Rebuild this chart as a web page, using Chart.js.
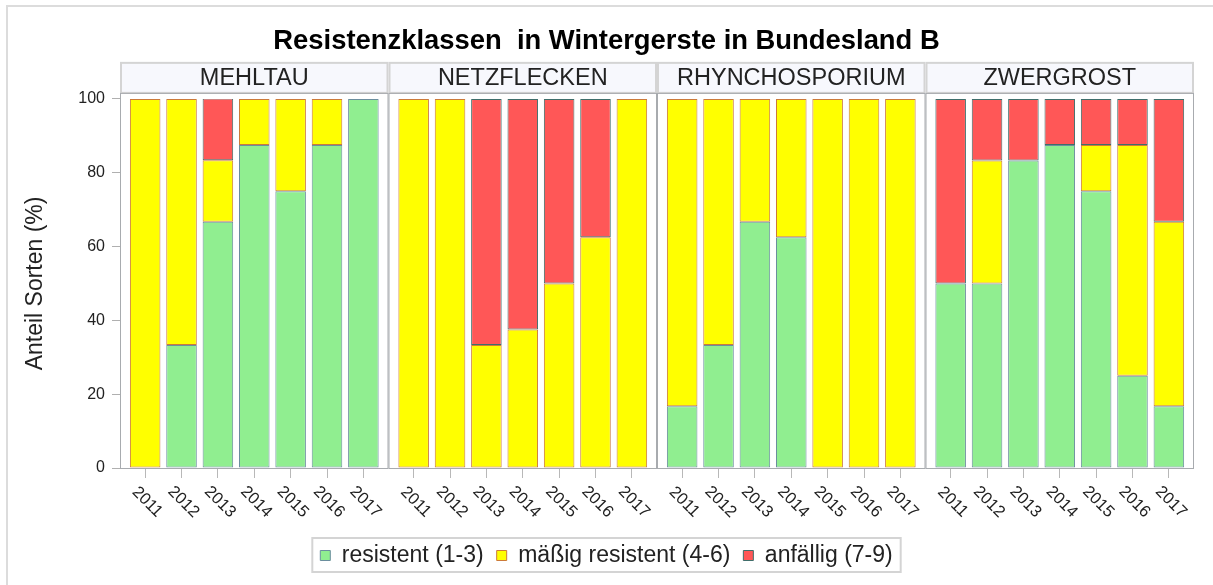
<!DOCTYPE html>
<html>
<head>
<meta charset="utf-8">
<script src="https://cdn.jsdelivr.net/npm/chart.js@4.4.1/dist/chart.umd.min.js"></script>
<style>
html, body { margin: 0; padding: 0; background: #fff; }
#wrap { position: relative; width: 1213px; height: 585px; overflow: hidden; }
#wrap canvas { position: absolute; left: 0; top: 0; }
#frame { position: absolute; left: 6px; top: 5px; width: 1220px; height: 600px; border-top: 2px solid #dcdcdc; border-left: 2px solid #dcdcdc; pointer-events: none; }
</style>
</head>
<body>
<div id="wrap">
    <canvas id="chart" width="1213" height="585"></canvas>
    <div id="frame"></div>
</div>
<script>
const panels = ["MEHLTAU", "NETZFLECKEN", "RHYNCHOSPORIUM", "ZWERGROST"];
const years = ["2011", "2012", "2013", "2014", "2015", "2016", "2017"];
const yTicks = [0, 20, 40, 60, 80, 100];

// Anteil Sorten (%) je Panel, Jahre 2011-2017
const resistent = [
    [0, 33.3, 66.7, 87.5, 75, 87.5, 100],
    [0, 0, 0, 0, 0, 0, 0],
    [16.7, 33.3, 66.7, 62.5, 0, 0, 0],
    [50, 50, 83.3, 87.5, 75, 25, 16.7]
];
const maessig = [
    [100, 66.7, 16.7, 12.5, 25, 12.5, 0],
    [100, 100, 33.3, 37.5, 50, 62.5, 100],
    [83.3, 66.7, 33.3, 37.5, 100, 100, 100],
    [0, 33.3, 0, 0, 12.5, 62.5, 50]
];
const anfaellig = [
    [0, 0, 16.7, 0, 0, 0, 0],
    [0, 0, 66.7, 62.5, 50, 37.5, 0],
    [0, 0, 0, 0, 0, 0, 0],
    [50, 16.7, 16.7, 12.5, 12.5, 12.5, 33.3]
];

// panel layout in bar steps
const panelWidth = 7.383;
const panelEdge = 0.692;
const slot = (g, i) => g * panelWidth + panelEdge + i;
const slots = panels.flatMap((p, g) => years.map((y, i) => slot(g, i)));

function toPoints(values) {
    return values.flatMap((arr, g) => arr.map((v, i) => ({ x: slot(g, i), y: v > 0 ? v : null })));
}

Chart.defaults.font.family = "'Liberation Sans', Arial, sans-serif";
Chart.defaults.color = '#222';

const panelPlugin = {
    id: 'panelPlugin',
    beforeDatasetsDraw(chart) {
        const ctx = chart.ctx;
        const area = chart.chartArea;
        const x = chart.scales.x;
        const frameTop = area.top - 6;
        const headTop = frameTop - 31;
        ctx.save();
        panels.forEach((name, g) => {
            const left = x.getPixelForValue(g * panelWidth);
            const right = x.getPixelForValue((g + 1) * panelWidth);
            // header strip
            ctx.fillStyle = '#f7f8fd';
            ctx.fillRect(left, headTop, right - left, frameTop - headTop);
            ctx.strokeStyle = '#d4d4d4';
            ctx.lineWidth = 2;
            ctx.strokeRect(left + 1, headTop + 1, right - left - 2, frameTop - headTop - 1);
            ctx.fillStyle = '#222';
            ctx.font = "23.5px 'Liberation Sans', Arial, sans-serif";
            ctx.textAlign = 'center';
            ctx.textBaseline = 'middle';
            ctx.fillText(name, (left + right) / 2, (headTop + frameTop) / 2 + 1);
            // panel frame
            ctx.strokeStyle = '#a8abaf';
            ctx.lineWidth = 1;
            ctx.strokeRect(left + 0.5, frameTop + 0.5, right - left - 1, area.bottom - frameTop);
        });
        ctx.restore();
    },
    afterDraw(chart) {
        const ctx = chart.ctx;
        const area = chart.chartArea;
        const x = chart.scales.x;
        ctx.save();
        // rotated year labels
        ctx.fillStyle = '#222';
        ctx.font = "16.5px 'Liberation Sans', Arial, sans-serif";
        ctx.textAlign = 'center';
        ctx.textBaseline = 'middle';
        panels.forEach((p, g) => {
            years.forEach((yr, i) => {
                ctx.save();
                ctx.translate(x.getPixelForValue(slot(g, i)) + 2, area.bottom + 34);
                ctx.rotate(Math.PI / 4);
                ctx.fillText(yr, 0, 0);
                ctx.restore();
            });
        });
        // legend border
        const boxes = chart.legend.legendHitBoxes;
        if (boxes && boxes.length) {
            const l = Math.min(...boxes.map(b => b.left)) - 8;
            const r = Math.max(...boxes.map(b => b.left + b.width)) + 8;
            const t = Math.min(...boxes.map(b => b.top)) - 6;
            const b2 = Math.max(...boxes.map(b => b.top + b.height)) + 5;
            ctx.strokeStyle = '#d4d4d4';
            ctx.lineWidth = 2;
            ctx.strokeRect(l, t, r - l, b2 - t);
        }
        ctx.restore();
    }
};

new Chart(document.getElementById('chart').getContext('2d'), {
    type: 'bar',
    data: {
        datasets: [{
            label: 'resistent (1-3)',
            data: toPoints(resistent),
            backgroundColor: '#90ee90',
            borderColor: '#6b8e9e',
            borderWidth: 1,
            borderSkipped: false
        }, {
            label: 'mäßig resistent (4-6)',
            data: toPoints(maessig),
            backgroundColor: '#ffff00',
            borderColor: '#cc7a3a',
            borderWidth: 1,
            borderSkipped: false
        }, {
            label: 'anfällig (7-9)',
            data: toPoints(anfaellig),
            backgroundColor: '#ff5757',
            borderColor: '#3f6e6b',
            borderWidth: 1,
            borderSkipped: false
        }]
    },
    options: {
        responsive: false,
        animation: false,
        layout: {
            padding: { left: 19, right: 19, top: 0, bottom: 8 }
        },
        datasets: {
            bar: { barPercentage: 0.84, categoryPercentage: 1 }
        },
        scales: {
            x: {
                type: 'linear',
                stacked: true,
                offset: false,
                min: 0,
                max: panels.length * panelWidth,
                afterBuildTicks: (scale) => { scale.ticks = slots.map(v => ({ value: v })); },
                afterFit: (scale) => { scale.height = 63; },
                ticks: { display: false },
                border: { display: false },
                grid: {
                    offset: false,
                    drawOnChartArea: false,
                    drawTicks: true,
                    tickLength: 10,
                    color: '#b8b8b8'
                }
            },
            y: {
                stacked: true,
                min: 0,
                max: 100,
                afterBuildTicks: (scale) => { scale.ticks = yTicks.map(v => ({ value: v })); },
                afterFit: (scale) => { scale.width = 101; },
                border: { display: false },
                title: {
                    display: true,
                    text: 'Anteil Sorten (%)',
                    color: '#222',
                    font: { size: 23 },
                    padding: { top: 3, bottom: 0 }
                },
                ticks: {
                    color: '#222',
                    font: { size: 16 },
                    padding: 7
                },
                grid: {
                    drawOnChartArea: false,
                    drawTicks: true,
                    tickLength: 8,
                    color: '#b0b0b0'
                }
            }
        },
        plugins: {
            title: {
                display: true,
                text: 'Resistenzklassen  in Wintergerste in Bundesland B',
                color: '#000',
                font: { size: 27.4, weight: 'bold' },
                padding: { top: 25, bottom: 41 }
            },
            legend: {
                position: 'bottom',
                labels: {
                    color: '#222',
                    font: { size: 23 },
                    boxWidth: 10,
                    boxHeight: 10,
                    padding: 13
                }
            },
            tooltip: { enabled: false }
        }
    },
    plugins: [panelPlugin]
});
</script>
</body>
</html>
